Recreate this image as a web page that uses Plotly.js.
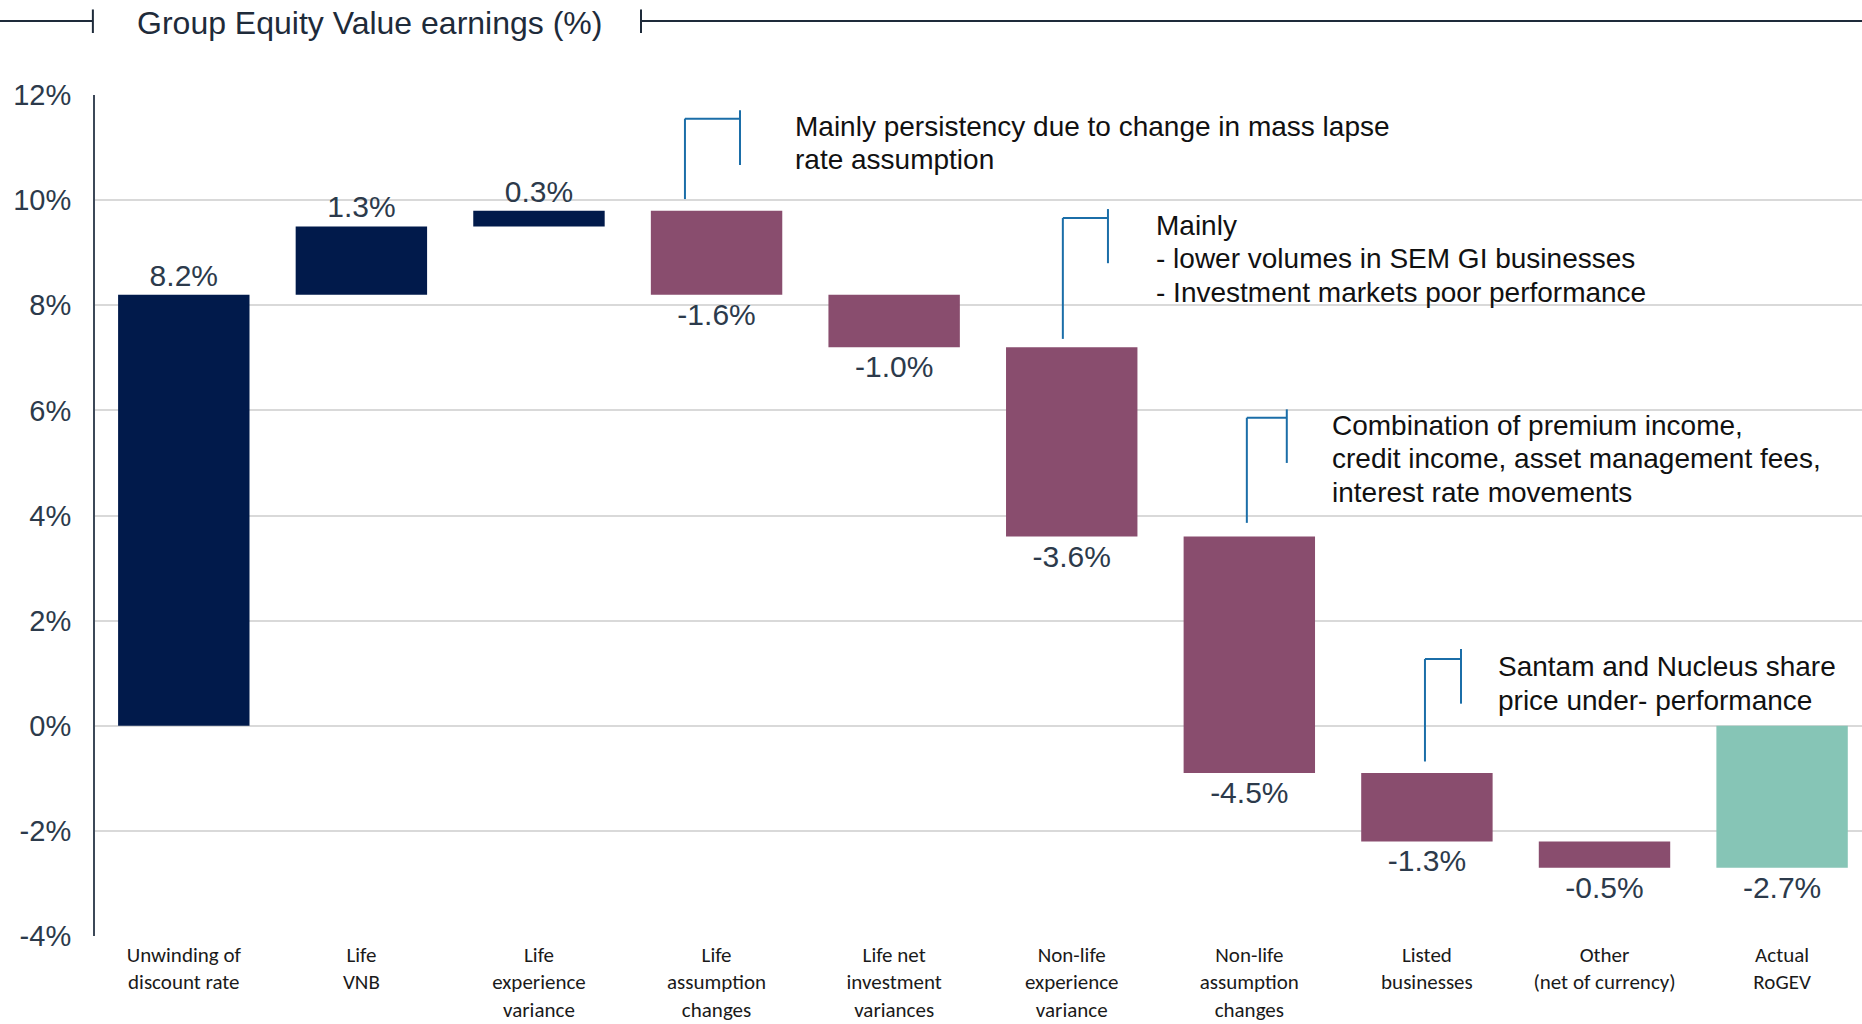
<!DOCTYPE html>
<html>
<head>
<meta charset="utf-8">
<script src="https://cdn.plot.ly/plotly-3.0.1.min.js"></script>
<style>html,body{margin:0;padding:0;background:#fff;overflow:hidden;}#chart{width:1862px;height:1024px;}</style>
</head>
<body>
<div id="chart"></div>
<script>
// ---- data ----
const categories = [
  "Unwinding of<br>discount rate",
  "Life<br>VNB",
  "Life<br>experience<br>variance",
  "Life<br>assumption<br>changes",
  "Life net<br>investment<br>variances",
  "Non-life<br>experience<br>variance",
  "Non-life<br>assumption<br>changes",
  "Listed<br>businesses",
  "Other<br>(net of currency)",
  "Actual<br>RoGEV"
];
const values = [8.2, 1.3, 0.3, -1.6, -1.0, -3.6, -4.5, -1.3, -0.5, -2.7];
const measures = ["relative","relative","relative","relative","relative","relative","relative","relative","relative","total"];
const valueLabels = values.map(v => v.toFixed(1) + "%");
const yTickVals = [-4, -2, 0, 2, 4, 6, 8, 10, 12];
const yTickText = yTickVals.map(v => v + "%");

const noteLines = [
  ["Mainly persistency due to change in mass lapse", "rate assumption"],
  ["Mainly", "- lower volumes in SEM GI businesses", "- Investment markets poor performance"],
  ["Combination of premium income,", "credit income, asset management fees,", "interest rate movements"],
  ["Santam and Nucleus share", "price under- performance"]
];

// ---- styles / layout positions ----
const NAVY = "#011a4b", PURPLE = "#894d6e", TEAL = "#86c5b6";
const TXT = "#2c3a4b", BLUE = "#1b6ea8";
const ARIAL = "Liberation Sans, Arial, sans-serif";
const CAT_FONT = "Carlito, Calibri, Lato, sans-serif";
const LINE_STEP = 33.5;

// bracket geometry: [stemX, stemBottomY, stemTopY, capX, capTopY, capBottomY, textX, firstLineY]
const brackets = [
  [2.822, 10.02, 11.55, 3.132, 11.71, 10.67, 3.430, 11.41],
  [4.950, 7.36, 9.66, 5.204, 9.83, 8.80, 5.463, 9.52],
  [5.986, 3.86, 5.86, 6.211, 6.02, 5.00, 6.453, 5.72],
  [6.989, -0.68, 1.27, 7.192, 1.46, 0.42, 7.389, 1.12]
];

const shapes = [];
const annotations = [];
brackets.forEach((b, i) => {
  const ln = {color: BLUE, width: 2};
  shapes.push({type:"line", xref:"x", yref:"y", x0:b[0], x1:b[0], y0:b[1], y1:b[2], line:ln});
  shapes.push({type:"line", xref:"x", yref:"y", x0:b[0], x1:b[3], y0:b[2], y1:b[2], line:ln});
  shapes.push({type:"line", xref:"x", yref:"y", x0:b[3], x1:b[3], y0:b[4], y1:b[5], line:ln});
  noteLines[i].forEach((t, k) => {
    annotations.push({xref:"x", yref:"y", x:b[6], y:b[7], yshift: -LINE_STEP * k,
      xanchor:"left", yanchor:"middle", align:"left", showarrow:false, text: t,
      font:{family: ARIAL, size: 28, color: "#111111"}});
  });
});

// title decoration lines (paper coords)
const TL = {color: "#1e2b3a", width: 2};
shapes.push({type:"line", xref:"paper", yref:"paper", x0:-0.0538, x1:-0.0012, y0:1.088, y1:1.088, line:TL});
shapes.push({type:"line", xref:"paper", yref:"paper", x0:-0.0012, x1:-0.0012, y0:1.1017, y1:1.0737, line:TL});
shapes.push({type:"line", xref:"paper", yref:"paper", x0:0.309, x1:0.309, y0:1.1017, y1:1.0737, line:TL});
shapes.push({type:"line", xref:"paper", yref:"paper", x0:0.309, x1:1.0, y0:1.088, y1:1.088, line:TL});

const trace = {
  type: "waterfall",
  x: categories,
  y: values,
  measure: measures,
  text: valueLabels,
  textposition: "outside",
  constraintext: "none",
  cliponaxis: false,
  textfont: {family: ARIAL, size: 30, color: TXT},
  increasing: {marker: {color: NAVY}},
  decreasing: {marker: {color: PURPLE}},
  totals: {marker: {color: TEAL}},
  connector: {visible: false},
  hoverinfo: "skip"
};

const layout = {
  width: 1862, height: 1024,
  margin: {l: 95, r: 0, t: 95, b: 88},
  paper_bgcolor: "#ffffff", plot_bgcolor: "#ffffff",
  showlegend: false,
  waterfallgap: 0.26,
  title: {
    text: "Group Equity Value earnings (%)",
    font: {family: ARIAL, size: 32, color: "#1e2b3a"},
    xref: "container", yref: "container",
    x: 0.0736, xanchor: "left", y: 0.978, yanchor: "middle"
  },
  xaxis: {
    type: "category", showgrid: false, showline: false, zeroline: false, ticks: "",
    tickfont: {family: CAT_FONT, size: 21, color: "#1a1a1a"},
    ticklabelstandoff: 4,
    automargin: false, range: [-0.5, 9.45], fixedrange: true
  },
  yaxis: {
    range: [-4, 12], tickvals: yTickVals, ticktext: yTickText,
    showgrid: true, gridcolor: "#d9d9d9", gridwidth: 2,
    showline: true, linecolor: "#3c4858", linewidth: 2, zeroline: false,
    tickfont: {family: ARIAL, size: 29, color: TXT},
    ticklabelstandoff: 16, automargin: false, fixedrange: true
  },
  shapes: shapes,
  annotations: annotations
};

Plotly.newPlot("chart", [trace], layout, {staticPlot: true, displayModeBar: false});
</script>
</body>
</html>
